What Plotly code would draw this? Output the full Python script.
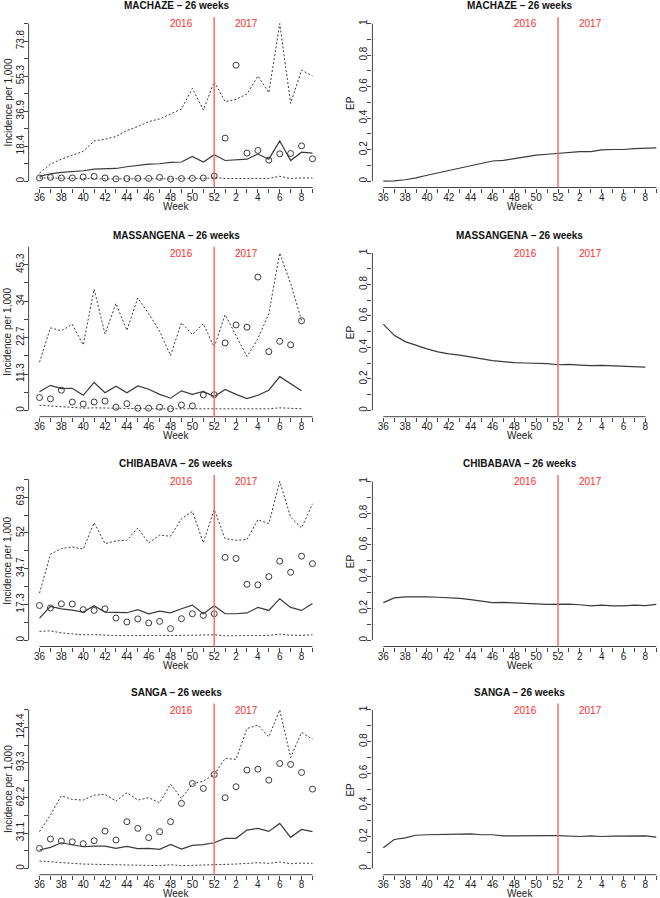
import plotly.graph_objects as go

WEEKS = [36, 37, 38, 39, 40, 41, 42, 43, 44, 45, 46, 47, 48, 49, 50, 51, 52,
         1, 2, 3, 4, 5, 6, 7, 8, 9]

DISTRICTS = ["MACHAZE", "MASSANGENA", "CHIBABAVA", "SANGA"]

MACHAZE_UPPER = [4.3, 9.0, 11.6, 13.7, 15.7, 21.2, 22.1, 23.5, 26.7, 28.8, 31.4, 32.8, 35.2, 38.0,
                 48.9, 37.5, 52.4, 41.9, 43.1, 45.9, 55.4, 46.6, 83.0, 41.0, 58.5, 55.4]
MACHAZE_MEAN = [2.5, 3.9, 4.6, 5.1, 5.5, 6.4, 6.6, 6.7, 7.6, 8.3, 9.0, 9.2, 9.9, 10.1,
                13.0, 10.1, 13.9, 10.9, 11.3, 11.6, 14.3, 11.6, 21.2, 10.9, 15.3, 14.8]
MACHAZE_LOWER = [1.7, 1.6, 1.4, 1.3, 1.3, 1.4, 1.3, 1.2, 1.2, 1.3, 1.3, 1.3, 1.2, 1.3,
                 1.6, 1.3, 1.9, 1.4, 1.4, 1.5, 1.7, 1.5, 2.6, 1.4, 1.7, 1.7]
MACHAZE_OBS = [1.7, 2.0, 1.7, 1.7, 2.2, 2.5, 1.7, 1.2, 1.4, 1.5, 1.5, 2.0, 1.1, 1.4,
               1.5, 1.7, 2.7, 22.7, 61.1, 14.8, 16.2, 11.1, 14.4, 14.6, 18.6, 11.8]
MACHAZE_EP = [0.0, 0.002, 0.009, 0.021, 0.038, 0.053, 0.064, 0.081, 0.098, 0.113, 0.128, 0.132,
              0.143, 0.154, 0.165, 0.171, 0.177, 0.182, 0.188, 0.188, 0.199, 0.201, 0.201,
              0.207, 0.209, 0.212]

MASSANGENA_UPPER = [15.0, 25.7, 24.8, 26.8, 20.4, 37.7, 23.8, 33.3, 24.9, 35.0, 30.1, 24.6, 17.1,
                    27.3, 23.6, 27.0, 19.7, 29.8, 23.3, 16.8, 22.3, 30.1, 49.0, 39.5, 28.0]
MASSANGENA_MEAN = [5.8, 7.8, 6.8, 6.9, 4.7, 8.7, 5.5, 7.5, 5.5, 7.6, 6.6, 5.0, 3.8,
                   6.1, 5.0, 5.9, 4.3, 6.5, 5.0, 3.7, 4.7, 6.3, 10.5, 8.4, 6.1]
MASSANGENA_LOWER = [1.6, 1.4, 1.0, 0.9, 0.7, 0.8, 0.7, 0.7, 0.6, 0.6, 0.5, 0.5, 0.4,
                    0.5, 0.5, 0.5, 0.4, 0.5, 0.4, 0.3, 0.4, 0.5, 0.8, 0.6, 0.5]
MASSANGENA_OBS = [4.0, 3.6, 6.3, 2.6, 2.0, 2.6, 2.9, 1.0, 2.1, 0.7, 0.7, 1.0, 0.5,
                  1.7, 1.4, 4.8, 4.9, 21.0, 26.6, 25.9, 41.5, 18.3, 21.5, 20.4, 27.9]
MASSANGENA_EP = [0.548, 0.477, 0.437, 0.413, 0.391, 0.372, 0.359, 0.351, 0.338, 0.329, 0.316,
                 0.310, 0.303, 0.301, 0.301, 0.297, 0.290, 0.292, 0.288, 0.284, 0.286, 0.282,
                 0.282, 0.275, 0.275]

CHIBABAVA_UPPER = [22.8, 41.7, 44.4, 45.2, 44.1, 56.9, 46.8, 48.1, 48.4, 54.4, 47.2, 50.9, 50.4,
                   58.9, 62.4, 47.2, 63.4, 49.2, 48.4, 48.8, 58.4, 56.5, 77.0, 59.7, 54.4, 66.1]
CHIBABAVA_MEAN = [10.7, 16.4, 15.2, 14.6, 13.6, 16.7, 13.6, 13.6, 13.3, 14.8, 12.8, 14.1, 13.2,
                  15.2, 17.0, 12.8, 16.7, 12.8, 12.8, 13.2, 15.9, 14.4, 20.1, 15.9, 14.4, 17.8]
CHIBABAVA_LOWER = [4.3, 4.5, 3.5, 3.0, 2.6, 2.7, 2.4, 2.2, 2.2, 2.3, 2.2, 2.3, 2.2,
                   2.3, 2.4, 2.2, 2.6, 2.1, 2.1, 2.2, 2.4, 2.3, 2.9, 2.4, 2.3, 2.6]
CHIBABAVA_OBS = [16.8, 15.6, 17.6, 17.5, 14.8, 14.4, 15.2, 10.7, 8.8, 10.3, 8.3, 9.1, 5.6,
                 10.4, 12.8, 12.0, 12.8, 40.1, 39.6, 27.1, 26.8, 30.8, 38.3, 32.9, 40.7, 37.1]
CHIBABAVA_EP = [0.236, 0.266, 0.272, 0.274, 0.272, 0.270, 0.268, 0.263, 0.255, 0.244, 0.236,
                0.238, 0.236, 0.231, 0.229, 0.225, 0.227, 0.227, 0.223, 0.216, 0.221, 0.216,
                0.216, 0.221, 0.218, 0.225]

SANGA_UPPER = [32.4, 47.1, 64.1, 60.9, 60.3, 64.7, 65.3, 59.4, 66.8, 60.3, 62.4, 57.9, 74.4,
               61.8, 74.4, 77.1, 82.9, 97.1, 96.2, 123.5, 126.5, 116.2, 140.0, 97.9, 120.0, 114.1]
SANGA_MEAN = [16.2, 18.5, 22.6, 20.6, 19.1, 19.7, 19.7, 17.6, 19.4, 17.4, 17.6, 16.8, 21.2,
              17.1, 20.3, 20.9, 22.6, 26.5, 26.5, 33.8, 35.3, 32.6, 39.7, 27.4, 34.4, 32.4]
SANGA_LOWER = [6.5, 5.6, 5.3, 4.4, 3.8, 3.5, 3.5, 2.9, 3.2, 2.6, 2.6, 2.4, 3.2,
               2.4, 2.6, 2.9, 3.5, 3.5, 3.8, 4.4, 5.0, 4.4, 5.6, 4.1, 4.7, 4.4]
SANGA_OBS = [17.6, 25.9, 24.1, 23.5, 21.8, 24.4, 32.9, 25.0, 41.2, 35.3, 27.1, 32.4, 41.2,
             57.4, 75.0, 70.6, 82.9, 62.4, 72.1, 86.8, 87.6, 77.9, 92.6, 91.8, 84.7, 70.0]
SANGA_EP = [0.130, 0.182, 0.192, 0.209, 0.212, 0.212, 0.214, 0.216, 0.218, 0.212, 0.212, 0.205,
            0.205, 0.207, 0.207, 0.207, 0.207, 0.205, 0.201, 0.205, 0.201, 0.203, 0.203, 0.203,
            0.205, 0.197]

TICK_MAX = [83.0, 51.0, 78.0, 140.0]
EP_TICKS = [0, 0.1, 0.2, 0.3, 0.4, 0.5, 0.6, 0.7, 0.8, 0.9, 1.0]
SPLIT_WEEK_INDEX = 16
YEAR_LABELS = ["2016", "2017"]

SERIES = [
    (MACHAZE_UPPER, MACHAZE_MEAN, MACHAZE_LOWER, MACHAZE_OBS, MACHAZE_EP),
    (MASSANGENA_UPPER, MASSANGENA_MEAN, MASSANGENA_LOWER, MASSANGENA_OBS, MASSANGENA_EP),
    (CHIBABAVA_UPPER, CHIBABAVA_MEAN, CHIBABAVA_LOWER, CHIBABAVA_OBS, CHIBABAVA_EP),
    (SANGA_UPPER, SANGA_MEAN, SANGA_LOWER, SANGA_OBS, SANGA_EP),
]

# ---------------- layout geometry ----------------
W, H = 660, 898
ROWS_PX = [(17.3, 187.5), (246.7, 416.7), (475.0, 646.5), (703.5, 874.7)]
LEFT_PX = (28.6, 323.4)
RIGHT_PX = (372.4, 660.0)
UNIT = (LEFT_PX[1] - LEFT_PX[0]) / 27.0
RIGHT_XMAX = -1 + (RIGHT_PX[1] - RIGHT_PX[0]) / UNIT

FONT = "Liberation Sans, Arial, Helvetica, sans-serif"
LINE_COL = "#3a3a3a"
AX_COL = "#444444"
TXT_COL = "#222222"
RED = "#ff6a6a"


def fmt(v):
    r = round(v, 1)
    return "0" if r == 0 else f"{r:g}"


fig = go.Figure()
layout = dict(
    width=W, height=H, margin=dict(l=0, r=0, t=0, b=0, autoexpand=False),
    paper_bgcolor="white", plot_bgcolor="white", showlegend=False,
    font=dict(family=FONT, size=10, color=TXT_COL),
)
shapes = []
annotations = []


def xdom(px):
    return [px[0] / W, px[1] / W]


def ydom(px):
    return [1 - px[1] / H, 1 - px[0] / H]


for r, name in enumerate(DISTRICTS):
    upper, mean, lower, obs, ep = SERIES[r]
    n = len(mean)
    xs = list(range(n))
    for side in range(2):
        k = 2 * r + side + 1
        xa = "x" if k == 1 else f"x{k}"
        ya = "y" if k == 1 else f"y{k}"
        xkey = "xaxis" if k == 1 else f"xaxis{k}"
        ykey = "yaxis" if k == 1 else f"yaxis{k}"
        colpx = LEFT_PX if side == 0 else RIGHT_PX
        xr = [-1, 26] if side == 0 else [-1, RIGHT_XMAX]
        nt = 26 if side == 0 else n
        tickvals = list(range(nt))
        ticktext = [str(WEEKS[i]) if i % 2 == 0 else "" for i in range(nt)]
        layout[xkey] = dict(
            domain=xdom(colpx), range=xr, anchor=ya,
            tickvals=tickvals, ticktext=ticktext, ticks="outside", ticklen=4,
            tickwidth=1, tickcolor=AX_COL, showgrid=False, zeroline=False,
            showline=False, tickfont=dict(size=10, color=TXT_COL), tickangle=0,
            ticklabelstandoff=-4, automargin=False,
        )
        if side == 0:
            M = max(upper)
            T = TICK_MAX[r]
            yt = [T * i / 9 for i in range(10)]
            ytt = [fmt(v) if i % 2 == 0 else "" for i, v in enumerate(yt)]
            yr = [-0.04 * M, 1.04 * M]
            ytop = T
        else:
            yt = EP_TICKS
            ytt = [fmt(v) if i % 2 == 0 else "" for i, v in enumerate(yt)]
            yr = [-0.04, 1.04]
            ytop = 1.0
        layout[ykey] = dict(
            domain=ydom(ROWS_PX[r]), range=yr, anchor=xa,
            tickvals=yt, ticktext=ytt, ticks="outside", ticklen=4, tickwidth=1,
            tickcolor=AX_COL, showgrid=False, zeroline=False, showline=False,
            tickangle=-90, tickfont=dict(size=10, color=TXT_COL),
            ticklabelstandoff=-4, automargin=False,
        )
        # R-style axis lines (spanning first to last tick)
        xend = (25 if side == 0 else n - 1)
        shapes.append(dict(type="line", xref=xa, yref=f"{ya} domain", x0=0, x1=xend,
                           y0=0, y1=0, line=dict(color=AX_COL, width=1)))
        shapes.append(dict(type="line", xref=f"{xa} domain", yref=ya, x0=0, x1=0,
                           y0=0, y1=ytop, line=dict(color=AX_COL, width=1)))
        # year split line
        shapes.append(dict(type="line", xref=xa, yref=f"{ya} domain",
                           x0=SPLIT_WEEK_INDEX, x1=SPLIT_WEEK_INDEX, y0=0, y1=1,
                           line=dict(color=RED, width=1.5)))
        annotations.append(dict(xref=xa, yref=f"{ya} domain", x=SPLIT_WEEK_INDEX - 3,
                                y=0.962, text=YEAR_LABELS[0], showarrow=False,
                                font=dict(color="#ff2a2a", size=10), yanchor="middle"))
        annotations.append(dict(xref=xa, yref=f"{ya} domain", x=SPLIT_WEEK_INDEX + 3,
                                y=0.962, text=YEAR_LABELS[1], showarrow=False,
                                font=dict(color="#ff2a2a", size=10), yanchor="middle"))
        # titles
        cx = (colpx[0] + (colpx[0] + 27 * UNIT)) / 2
        top = ROWS_PX[r][0]
        annotations.append(dict(xref="paper", yref="paper", x=cx / W, y=1 - (top - 11.5) / H,
                                text=f"<b>{name} – 26 weeks</b>", showarrow=False,
                                font=dict(size=10, color="#111111"),
                                xanchor="center", yanchor="middle"))
        annotations.append(dict(xref="paper", yref="paper", x=cx / W,
                                y=1 - (ROWS_PX[r][1] + 19) / H, text="Week", showarrow=False,
                                font=dict(size=10, color=TXT_COL),
                                xanchor="center", yanchor="middle"))
        ymid = (ROWS_PX[r][0] + ROWS_PX[r][1]) / 2
        annotations.append(dict(xref="paper", yref="paper",
                                x=(8 if side == 0 else 350.5) / W, y=1 - ymid / H,
                                text="Incidence per 1,000" if side == 0 else "EP",
                                textangle=-90, showarrow=False,
                                font=dict(size=10, color=TXT_COL),
                                xanchor="center", yanchor="middle"))

        if side == 0:
            fig.add_trace(go.Scatter(x=xs, y=upper, mode="lines", xaxis=xa, yaxis=ya,
                                     line=dict(color=LINE_COL, width=1, dash="2px,2px")))
            fig.add_trace(go.Scatter(x=xs, y=lower, mode="lines", xaxis=xa, yaxis=ya,
                                     line=dict(color=LINE_COL, width=1, dash="2px,2px")))
            fig.add_trace(go.Scatter(x=xs, y=mean, mode="lines", xaxis=xa, yaxis=ya,
                                     line=dict(color=LINE_COL, width=1.2)))
            fig.add_trace(go.Scatter(x=xs, y=obs, mode="markers", xaxis=xa, yaxis=ya,
                                     marker=dict(symbol="circle-open", size=6,
                                                 color=LINE_COL, line=dict(width=1))))
        else:
            fig.add_trace(go.Scatter(x=xs, y=ep, mode="lines", xaxis=xa, yaxis=ya,
                                     line=dict(color=LINE_COL, width=1.2)))

layout["shapes"] = shapes
layout["annotations"] = annotations
fig.update_layout(**layout)
fig.write_html("out.html", config={"displayModeBar": False},
               post_script="document.body.style.margin='0px';document.body.style.overflow='hidden';")
